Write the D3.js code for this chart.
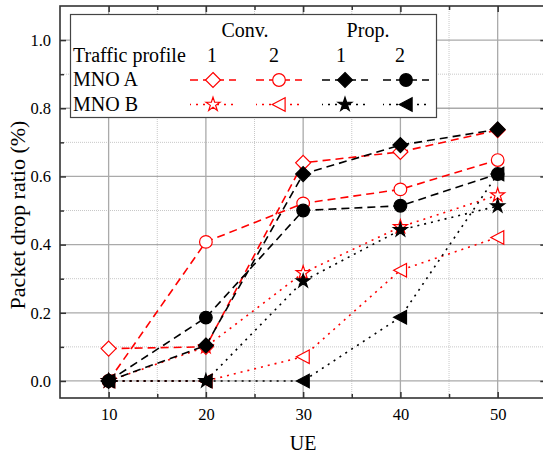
<!DOCTYPE html>
<html lang="en">
  <head>
    <meta charset="utf-8" />
    <title>Packet drop ratio vs UE</title>
    <script src="https://d3js.org/d3.v7.js"></script>
    <style>
      body { margin: 0; background: #fff; }
      text { font-family: "Liberation Serif", "Times New Roman", serif; fill: #000; }
    </style>
  </head>
  <body>
    <script>

    // data
    var ue = [10, 20, 30, 40, 50];
    var convA1 = [0.095, 0.100, 0.640, 0.672, 0.736];
    var convA2 = [0.000, 0.408, 0.521, 0.562, 0.648];
    var convB1 = [0.000, 0.100, 0.317, 0.452, 0.545];
    var convB2 = [0.000, 0.000, 0.071, 0.325, 0.421];
    var propA1 = [0.000, 0.104, 0.607, 0.692, 0.738];
    var propA2 = [0.000, 0.186, 0.500, 0.514, 0.607];
    var propB1 = [0.000, 0.000, 0.293, 0.443, 0.513];
    var propB2 = [0.000, 0.000, 0.000, 0.187, 0.607];
    var xMajor = [10, 20, 30, 40, 50];
    var xMinor = [15, 25, 35, 45];
    var yMajor = [0, 0.2, 0.4, 0.6, 0.8, 1.0];
    var yMinor = [0.1, 0.3, 0.5, 0.7, 0.9];

    var w = 543, h = 456;
    var margin = {top: 6, left: 60, bottom: 58};

    var x = d3.scaleLinear().domain([5, 55]).range([margin.left, 546.3]);
    var y = d3.scaleLinear().domain([-0.05, 1.1]).range([h - margin.bottom, margin.top]);

    // marker shapes
    var diamond = {draw: function (c, s) {
      var r = Math.sqrt(s);
      c.moveTo(0, -r); c.lineTo(r, 0); c.lineTo(0, r); c.lineTo(-r, 0); c.closePath();
    }};
    var leftTri = {draw: function (c, s) {
      var r = Math.sqrt(s);
      c.moveTo(-r, 0); c.lineTo(0.9 * r, -r); c.lineTo(0.9 * r, r); c.closePath();
    }};
    var circle = {draw: function (c, s) {
      var r = Math.sqrt(s);
      c.moveTo(r, 0); c.arc(0, 0, r, 0, 2 * Math.PI);
    }};

    var series = [
      {v: convA1, color: "red", dash: "8,5", sym: diamond, size: 56, fill: "#fff"},
      {v: convA2, color: "red", dash: "8,5", sym: circle, size: 40, fill: "#fff"},
      {v: convB1, color: "red", dash: "2,5", sym: d3.symbolStar, size: 60, fill: "#fff"},
      {v: convB2, color: "red", dash: "2,5", sym: leftTri, size: 46, fill: "#fff"},
      {v: propB1, color: "#000", dash: "2,5", sym: d3.symbolStar, size: 60, fill: "#000"},
      {v: propB2, color: "#000", dash: "2,5", sym: leftTri, size: 46, fill: "#000"},
      {v: propA1, color: "#000", dash: "8,5", sym: diamond, size: 56, fill: "#000"},
      {v: propA2, color: "#000", dash: "8,5", sym: circle, size: 40, fill: "#000"}
    ];

    var svg = d3.select("body").append("svg")
      .attr("width", w)
      .attr("height", h);

    // grid
    var grid = svg.append("g");
    grid.selectAll(".gxm").data(xMinor).join("line")
      .attr("x1", d => x(d)).attr("x2", d => x(d))
      .attr("y1", y.range()[0]).attr("y2", y.range()[1])
      .attr("stroke", "#c8c8c8").attr("stroke-dasharray", "1,1");
    grid.selectAll(".gym").data(yMinor).join("line")
      .attr("y1", d => y(d)).attr("y2", d => y(d))
      .attr("x1", x.range()[0]).attr("x2", x.range()[1])
      .attr("stroke", "#c8c8c8").attr("stroke-dasharray", "1,1");
    grid.selectAll(".gx").data(xMajor).join("line")
      .attr("x1", d => x(d)).attr("x2", d => x(d))
      .attr("y1", y.range()[0]).attr("y2", y.range()[1])
      .attr("stroke", "#aaa").attr("stroke-width", 1.3);
    grid.selectAll(".gy").data(yMajor).join("line")
      .attr("y1", d => y(d)).attr("y2", d => y(d))
      .attr("x1", x.range()[0]).attr("x2", x.range()[1])
      .attr("stroke", "#aaa").attr("stroke-width", 1.3);

    // axes with inward ticks
    function styleAxis(g) {
      g.select(".domain").remove();
      g.selectAll(".tick line").attr("stroke", "#333").attr("stroke-width", 1.5);
      g.selectAll("text").style("font-size", "16.5px").style("font-family", "Liberation Serif");
    }
    svg.append("g").attr("transform", `translate(0,${y.range()[0]})`)
      .call(d3.axisBottom(x).tickValues(xMajor).tickSize(-6).tickPadding(10).tickFormat(d3.format("d")))
      .call(styleAxis);
    svg.append("g").attr("transform", `translate(0,${y.range()[0]})`)
      .call(d3.axisBottom(x).tickValues(xMinor).tickSize(-4).tickFormat(""))
      .call(styleAxis);
    svg.append("g").attr("transform", `translate(0,${y.range()[1]})`)
      .call(d3.axisTop(x).tickValues(xMajor).tickSize(-6).tickFormat(""))
      .call(styleAxis);
    svg.append("g").attr("transform", `translate(0,${y.range()[1]})`)
      .call(d3.axisTop(x).tickValues(xMinor).tickSize(-4).tickFormat(""))
      .call(styleAxis);
    svg.append("g").attr("transform", `translate(${x.range()[0]},0)`)
      .call(d3.axisLeft(y).tickValues(yMajor).tickSize(-6).tickPadding(9).tickFormat(d3.format(".1f")))
      .call(styleAxis);
    svg.append("g").attr("transform", `translate(${x.range()[0]},0)`)
      .call(d3.axisLeft(y).tickValues(yMinor).tickSize(-4).tickFormat(""))
      .call(styleAxis);
    svg.append("g").attr("transform", `translate(${x.range()[1]},0)`)
      .call(d3.axisRight(y).tickValues(yMajor).tickSize(-6).tickFormat(""))
      .call(styleAxis);

    // frame
    svg.append("rect")
      .attr("x", x.range()[0]).attr("y", y.range()[1])
      .attr("width", x.range()[1] - x.range()[0])
      .attr("height", y.range()[0] - y.range()[1])
      .attr("fill", "none").attr("stroke", "#333").attr("stroke-width", 1.6);

    // axis titles
    svg.append("text")
      .attr("x", (x.range()[0] + x.range()[1]) / 2)
      .attr("y", 450)
      .attr("text-anchor", "middle")
      .style("font-size", "20px")
      .text("UE");
    svg.append("text")
      .attr("transform", "translate(25,215) rotate(-90)")
      .attr("text-anchor", "middle")
      .style("font-size", "22px")
      .text("Packet drop ratio (%)");

    // series
    var line = d3.line().x((d, i) => x(ue[i])).y(d => y(d));
    series.forEach(function (s) {
      svg.append("path")
        .attr("d", line(s.v))
        .attr("fill", "none")
        .attr("stroke", s.color)
        .attr("stroke-width", 1.6)
        .attr("stroke-dasharray", s.dash);
      svg.selectAll(null).data(s.v).join("path")
        .attr("transform", (d, i) => `translate(${x(ue[i])},${y(d)})`)
        .attr("d", d3.symbol(s.sym, s.size))
        .attr("fill", s.fill)
        .attr("stroke", s.color)
        .attr("stroke-width", 1.2);
    });

    // legend
    var lg = svg.append("g");
    lg.append("rect")
      .attr("x", 70.5).attr("y", 14.5).attr("width", 366).attr("height", 103)
      .attr("fill", "#fff").attr("stroke", "#444").attr("stroke-width", 1.2);
    var headers = [["Conv.", 245, 36.5], ["Prop.", 368, 36.5], ["1", 212, 61.5], ["2", 274, 61.5], ["1", 341, 61.5], ["2", 400, 61.5]];
    headers.forEach(function (t) {
      lg.append("text").attr("x", t[1]).attr("y", t[2]).attr("text-anchor", "middle")
        .style("font-size", "20px").text(t[0]);
    });
    [["Traffic profile", 61.5], ["MNO A", 86], ["MNO B", 110.5]].forEach(function (t) {
      lg.append("text").attr("x", 73).attr("y", t[1]).style("font-size", "20px").text(t[0]);
    });
    var cols = [213, 279, 345, 406];
    var rows = [80, 104.5];
    var legendOrder = [[0, 1, 6, 7], [2, 3, 4, 5]];
    legendOrder.forEach(function (row, ri) {
      row.forEach(function (si, ci) {
        var s = series[si];
        lg.append("line")
          .attr("x1", cols[ci] - 23).attr("x2", cols[ci] + 23)
          .attr("y1", rows[ri]).attr("y2", rows[ri])
          .attr("stroke", s.color).attr("stroke-width", 1.6)
          .attr("stroke-dasharray", s.dash)
          .attr("stroke-dashoffset", ri === 0 ? 0 : 1);
        lg.append("path")
          .attr("transform", `translate(${cols[ci]},${rows[ri]})`)
          .attr("d", d3.symbol(s.sym, s.size))
          .attr("fill", s.fill).attr("stroke", s.color).attr("stroke-width", 1.2);
      });
    });

    </script>
  </body>
</html>
